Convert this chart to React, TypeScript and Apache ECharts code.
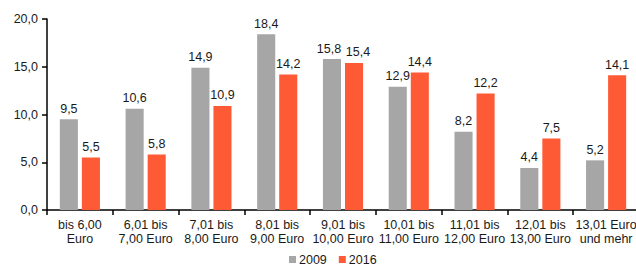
import React, { useEffect, useRef } from "react";
import * as echarts from "echarts";

const categories = [
  "bis 6,00\nEuro",
  "6,01 bis\n7,00 Euro",
  "7,01 bis\n8,00 Euro",
  "8,01 bis\n9,00 Euro",
  "9,01 bis\n10,00 Euro",
  "10,01 bis\n11,00 Euro",
  "11,01 bis\n12,00 Euro",
  "12,01 bis\n13,00 Euro",
  "13,01 Euro\nund mehr",
];
const values2009 = [9.5, 10.6, 14.9, 18.4, 15.8, 12.9, 8.2, 4.4, 5.2];
const values2016 = [5.5, 5.8, 10.9, 14.2, 15.4, 14.4, 12.2, 7.5, 14.1];
const seriesNames = ["2009", "2016"];

const fmt = (v: number) => v.toFixed(1).replace(".", ",");
const FONT = "Liberation Sans, Arial, sans-serif";
const TXT = "#1a1a1a";

export default function App() {
  const ref = useRef<HTMLDivElement>(null);
  useEffect(() => {
    if (!ref.current) return;
    const chart = echarts.init(ref.current, undefined, { renderer: "svg" });
    const label = {
      show: true,
      position: "top" as const,
      distance: 4,
      color: TXT,
      fontSize: 12.5,
      fontFamily: FONT,
      formatter: (p: any) => fmt(p.value),
    };
    // nudge the two crowded labels apart (category 5), like the reference
    const withNudge = (vals: number[], dx: number) =>
      vals.map((v, i) => (i === 4 ? { value: v, label: { offset: [dx, 0] } } : v));
    chart.setOption({
      animation: false,
      textStyle: { fontFamily: FONT },
      grid: { left: 47, right: 3, top: 19, bottom: 56, containLabel: false },
      legend: {
        top: 248,
        left: 284,
        itemWidth: 7,
        itemHeight: 7,
        itemGap: 12,
        icon: "rect",
        textStyle: { color: TXT, fontSize: 12.5, fontFamily: FONT, padding: [0, 0, 0, -2] },
        data: seriesNames,
      },
      xAxis: {
        type: "category",
        data: categories,
        axisLine: { lineStyle: { color: "#000", width: 1.5 } },
        axisTick: { show: true, length: 5, lineStyle: { color: "#000", width: 1.5 } },
        axisLabel: {
          color: TXT,
          fontSize: 12.5,
          fontFamily: FONT,
          lineHeight: 14,
          margin: 8,
          interval: 0,
        },
      },
      yAxis: {
        type: "value",
        min: 0,
        max: 20,
        interval: 5,
        splitLine: { show: false },
        axisLine: { show: true, lineStyle: { color: "#000", width: 1.5 } },
        axisTick: { show: true, length: 5, lineStyle: { color: "#000", width: 1.5 } },
        axisLabel: {
          color: TXT,
          fontSize: 12.5,
          fontFamily: FONT,
          margin: 9,
          formatter: (v: number) => fmt(v),
        },
      },
      series: [
        {
          name: seriesNames[0],
          type: "bar",
          data: withNudge(values2009, -3),
          itemStyle: { color: "#A6A6A6" },
          barGap: "22%",
          barCategoryGap: "39%",
          label,
        },
        {
          name: seriesNames[1],
          type: "bar",
          data: withNudge(values2016, 4),
          itemStyle: { color: "#FF5A36" },
          barGap: "22%",
          barCategoryGap: "39%",
          label,
        },
      ],
    });
    return () => chart.dispose();
  }, []);
  return (
    <div
      ref={ref}
      style={{ position: "fixed", left: 0, top: 0, width: 642, height: 266, background: "#fff" }}
    />
  );
}
